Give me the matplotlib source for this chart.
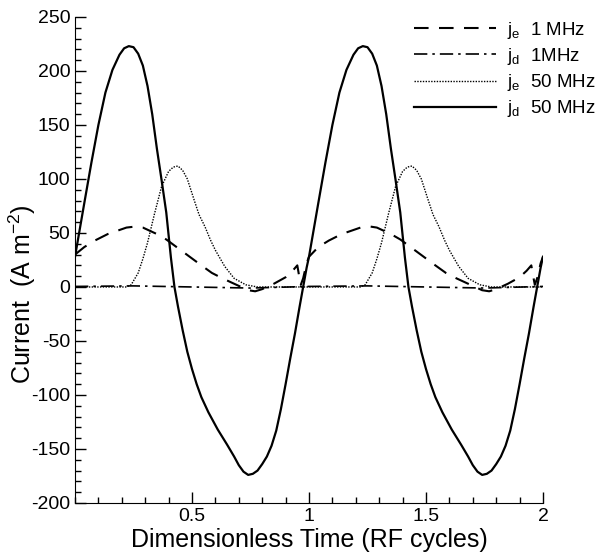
import numpy as np
import matplotlib
matplotlib.use("Agg")
import matplotlib.pyplot as plt
from matplotlib.ticker import MultipleLocator

# -----------------------------
# Style
# -----------------------------
plt.rcParams["font.family"] = ["Liberation Sans", "DejaVu Sans"]
plt.rcParams["mathtext.fontset"] = "custom"
plt.rcParams["mathtext.rm"] = "Liberation Sans"
plt.rcParams["mathtext.it"] = "Liberation Sans:italic"
plt.rcParams["axes.unicode_minus"] = False

# -----------------------------
# Data (one RF cycle; curves repeat each cycle)
# -----------------------------
t_jd50 = [0.00, 0.02, 0.04, 0.07, 0.10, 0.13, 0.16, 0.19, 0.21, 0.23,
          0.25, 0.27, 0.29, 0.31, 0.33, 0.35, 0.37, 0.39, 0.41, 0.425,
          0.44, 0.46, 0.48, 0.50, 0.52, 0.54, 0.57, 0.61, 0.65, 0.68,
          0.70, 0.72, 0.74, 0.76, 0.78, 0.80, 0.82, 0.84, 0.86, 0.88,
          0.90, 0.92, 0.94, 0.96, 0.975, 0.99, 1.00]
jd_50 = [28, 53, 78, 115, 150, 180, 201, 215, 221, 223,
         222, 216, 205, 186, 160, 128, 99, 69, 27, 0,
         -18, -40, -60, -76, -90, -102, -116, -132, -146, -157,
         -165, -171, -174, -173, -170, -164, -157, -147, -133, -113,
         -90, -66, -43, -18, 0, 18, 28]

t_je1 = [0.00, 0.04, 0.085, 0.14, 0.18, 0.22, 0.26, 0.29, 0.31, 0.35,
         0.39, 0.44, 0.49, 0.54, 0.585, 0.63, 0.67, 0.71, 0.74, 0.77,
         0.80, 0.85, 0.90, 0.93, 0.95, 0.958, 0.965, 0.975, 0.99, 1.00]
je_1 = [30, 37, 43, 49, 52, 55, 56, 55, 53, 49,
        44, 36, 28, 20, 13, 8, 4, 0, -3, -4,
        -2, 3, 9, 15, 20, 10, 2, 8, 22, 28]

t_je50 = [0.00, 0.22, 0.24, 0.27, 0.29, 0.31, 0.34, 0.37, 0.40, 0.42,
          0.44, 0.46, 0.48, 0.51, 0.53, 0.555, 0.58, 0.60, 0.64, 0.68,
          0.73, 0.78, 1.00]
je_50 = [0, 0, 2, 13, 26, 41, 68, 93, 107, 111,
         112, 108, 100, 80, 67, 56, 43, 34, 19, 8,
         2, 0, 0]

t_jd1 = [0.00, 0.25, 0.50, 0.75, 1.00]
jd_1 = [0.5, 1.0, 0.0, -1.0, 0.5]

labels = [r"$\mathregular{j_e}$  1 MHz", r"$\mathregular{j_d}$  1MHz",
          r"$\mathregular{j_e}$  50 MHz", r"$\mathregular{j_d}$  50 MHz"]


def two_cycles(t, v):
    t = np.asarray(t, dtype=float)
    v = np.asarray(v, dtype=float)
    return np.concatenate([t, t[1:] + 1]), np.concatenate([v, v[1:]])


# -----------------------------
# Plot
# -----------------------------
fig = plt.figure(figsize=(6.0, 5.58), dpi=100)
ax = fig.add_axes([0.125, 0.0986, 0.78, 0.871])

x, y = two_cycles(t_je1, je_1)
ax.plot(x, y, color="black", lw=1.5, ls=(0, (7, 5)), label=labels[0])
x, y = two_cycles(t_jd1, jd_1)
ax.plot(x, y, color="black", lw=1.2, ls=(0, (8, 3, 1.5, 3)), label=labels[1])
x, y = two_cycles(t_je50, je_50)
ax.plot(x, y, color="black", lw=1.0, ls=(0, (1, 1)), label=labels[2])
x, y = two_cycles(t_jd50, jd_50)
ax.plot(x, y, color="black", lw=1.6, ls="-", label=labels[3])

ax.set_xlim(0, 2)
ax.set_ylim(-200, 250)
ax.xaxis.set_major_locator(MultipleLocator(0.5))
ax.xaxis.set_minor_locator(MultipleLocator(0.1))
ax.yaxis.set_major_locator(MultipleLocator(50))
ax.yaxis.set_minor_locator(MultipleLocator(10))
ax.set_xticks([0.5, 1, 1.5, 2])
ax.set_xticklabels(["0.5", "1", "1.5", "2"])

ax.spines["top"].set_visible(False)
ax.spines["right"].set_visible(False)
ax.tick_params(which="both", direction="in", top=False, right=False,
               labelsize=14, width=1)
ax.tick_params(which="major", length=8)
ax.tick_params(which="minor", length=4)

ax.set_xlabel("Dimensionless Time (RF cycles)", fontsize=18, labelpad=2)
ax.set_ylabel(r"Current  (A m$^{\mathregular{-2}}$)", fontsize=18)
ax.yaxis.set_label_coords(-0.08, 0.43)

ax.legend(loc="upper right", bbox_to_anchor=(1.012, 0.985),
          bbox_transform=fig.transFigure, frameon=False, fontsize=13.5,
          handlelength=4.4, handletextpad=0.6, labelspacing=0.28,
          borderaxespad=0.2)

fig.savefig("out.png", dpi=100)
